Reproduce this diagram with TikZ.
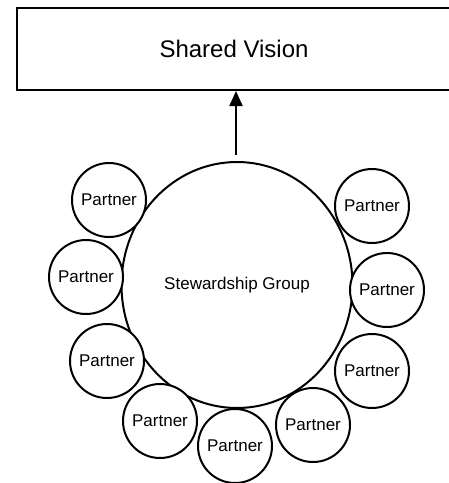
\documentclass[tikz,border=0pt]{standalone}
\usepackage{fontspec}
\setmainfont{Liberation Sans}
\usetikzlibrary{arrows.meta, shapes.geometric}

\begin{document}
\begin{tikzpicture}[x = 1pt, y = -1pt, line width = 2pt,
    vision/.style = {shape = rectangle, draw, minimum width = 450pt, minimum height = 82pt},
    group/.style = {shape = ellipse, draw, minimum width = 231pt, minimum height = 246pt,
        inner sep = 0pt, font = \fontsize{17}{20}\selectfont},
    partner/.style = {shape = circle, draw, fill = white, minimum size = 74pt, inner sep = 0pt,
        font = \fontsize{17}{20}\selectfont}]
    \useasboundingbox (0,0) rectangle (449,483);
    \clip (0,0) rectangle (449,483);
    \node[vision] (sv) at (242,49) {};
    \node[font = \fontsize{24}{28}\selectfont] (svtext) at (234,49) {Shared Vision};
    \node[group] (sg) at (237,285) {Stewardship Group};
    \node[partner] (p1) at (109,200) {Partner};
    \node[partner] (p2) at (86,277) {Partner};
    \node[partner] (p3) at (107,361) {Partner};
    \node[partner] (p4) at (160,421) {Partner};
    \node[partner] (p5) at (235,446) {Partner};
    \node[partner] (p6) at (313,425) {Partner};
    \node[partner] (p7) at (372,371) {Partner};
    \node[partner] (p8) at (387,290) {Partner};
    \node[partner] (p9) at (372,206) {Partner};
    \coordinate (tail) at (236,155);
    \draw[-{Triangle[length = 15pt, width = 13pt]}] (tail) -- (sv.south -| tail);
\end{tikzpicture}
\end{document}
